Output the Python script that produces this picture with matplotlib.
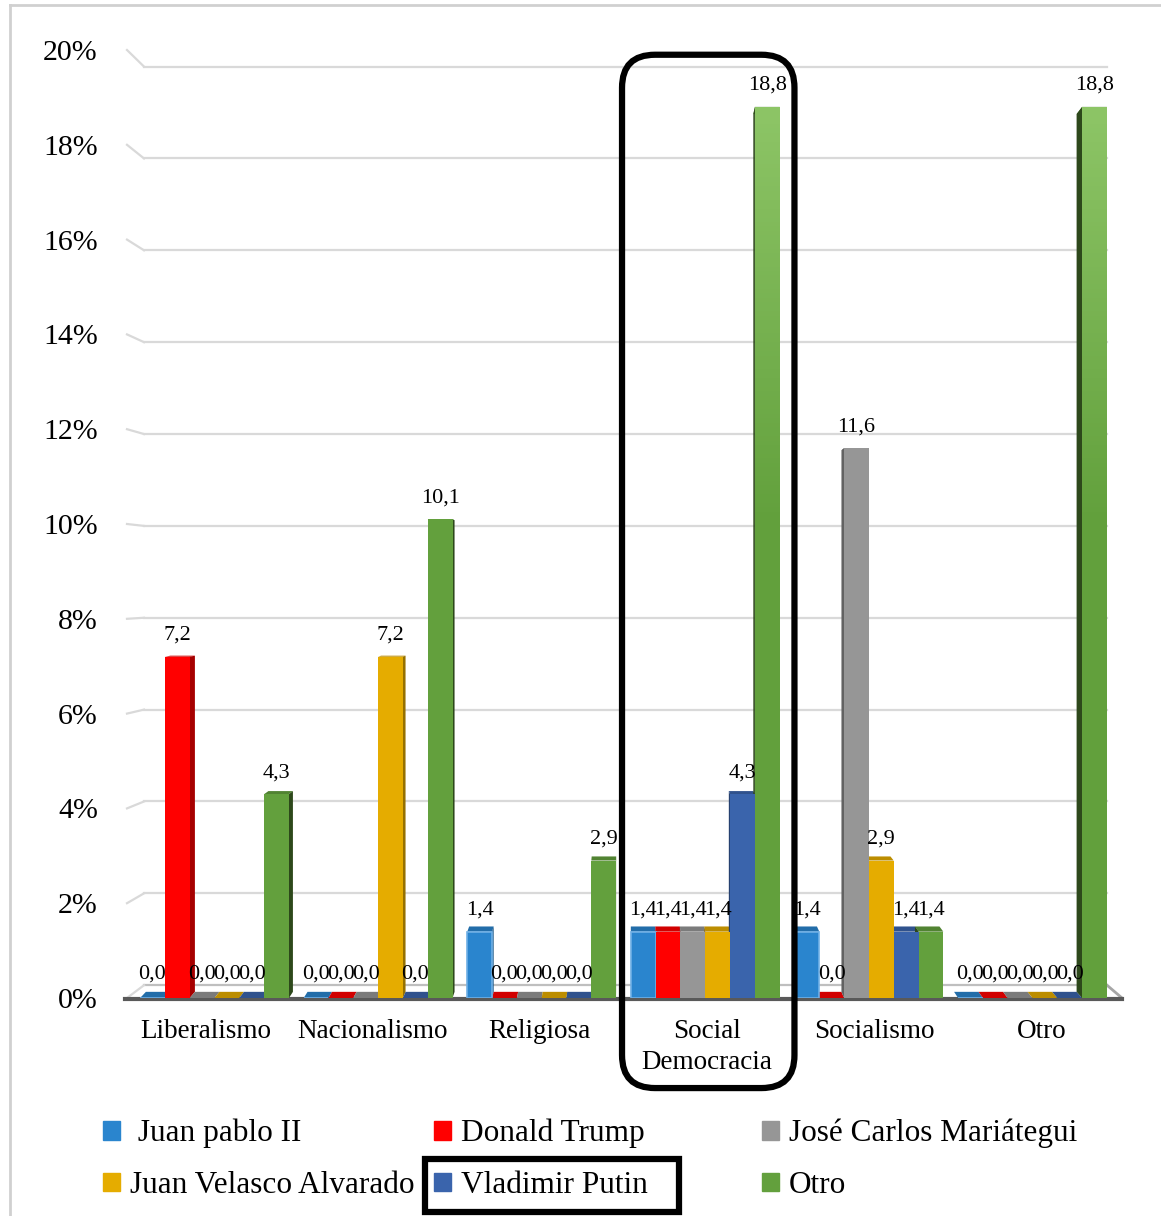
import numpy as np
import matplotlib.pyplot as plt
import matplotlib
from matplotlib.patches import Rectangle, Polygon, FancyBboxPatch
from matplotlib.colors import to_rgb, LinearSegmentedColormap

matplotlib.rcParams['font.family'] = 'Liberation Serif'

categorias = ['Liberalismo', 'Nacionalismo', 'Religiosa', 'Social\nDemocracia', 'Socialismo', 'Otro']
series = ['Juan pablo II', 'Donald Trump', 'José Carlos Mariátegui',
          'Juan Velasco Alvarado', 'Vladimir Putin', 'Otro']
juan_pablo   = [0.0, 0.0, 1.4, 1.4, 1.4, 0.0]
trump        = [7.2, 0.0, 0.0, 1.4, 0.0, 0.0]
mariategui   = [0.0, 0.0, 0.0, 1.4, 11.6, 0.0]
velasco      = [0.0, 7.2, 0.0, 1.4, 2.9, 0.0]
putin        = [0.0, 0.0, 0.0, 4.3, 1.4, 0.0]
otro         = [4.3, 10.1, 2.9, 18.8, 1.4, 18.8]
valores = [juan_pablo, trump, mariategui, velasco, putin, otro]
colores = ['#2A85CE', '#FF0000', '#969696', '#E5AC00', '#3A64AC', '#63A03D']
yticks = list(range(0, 21, 2))

W, H = 1161, 1216
fig = plt.figure(figsize=(W / 100, H / 100), dpi=100)
fig.patch.set_facecolor('white')

# axes placed in pixel terms: x 127..1122, y 0%->998 px, 20%->50 px
ax = fig.add_axes([127 / W, (H - 998) / H, (1122 - 127) / W, (998 - 50) / H])
ux, uy = 163.6, 47.4                     # px per data unit
xl0, xl1 = (127 - 214.5) / ux, (1122 - 214.5) / ux
ax.set_xlim(xl0, xl1)
ax.set_ylim(0, 20)
for s in ax.spines.values():
    s.set_visible(False)

bw = 0.1516
xc = 2.5          # vanishing centre


def back(x, y):
    return (x + (xc - x) * 0.012, y * 0.985 + 0.13)


# back wall gridlines with perspective stubs on the left
wall_dx = 17 / ux
for v in yticks:
    yb = 0.969 * v + 0.27
    gc = '#D9D9D9' if v > 0 else '#BFBFBF'
    ax.plot([wall_dx + xl0, xl1 - 15 / ux], [yb, yb], color=gc, lw=1.6, zorder=0)
    ax.plot([xl0, xl0 + wall_dx], [v, yb], color='#D9D9D9', lw=1.6, zorder=0, clip_on=False)
# floor
ax.plot([xl1 - 15 / ux, xl1], [0.27, 0.0], color='#A6A6A6', lw=2, zorder=0, clip_on=False)
ax.plot([xl0 - 0.01, xl1], [-0.03, -0.03], color='#595959', lw=3, zorder=1, clip_on=False)

green_cmap = LinearSegmentedColormap.from_list('g', ['#62A03C', '#62A03C', '#93CA6C'])


def dark(c, f):
    r, g, b = to_rgb(c)
    return (r * f, g * f, b * f)


x = np.arange(len(categorias))
for k, (vals, col) in enumerate(zip(valores, colores)):
    xs = x + (k - 2.5) * bw
    side_f = 0.45 if k == 5 else 0.65
    for xi, v in zip(xs, vals):
        x0, x1 = xi - bw / 2, xi + bw / 2
        b00, b10 = back(x0, 0), back(x1, 0)
        b01, b11 = back(x0, v), back(x1, v)
        # top face
        ax.add_patch(Polygon([(x0, v), (x1, v), b11, b01], closed=True,
                             facecolor=dark(col, 0.82), edgecolor='none', zorder=2))
        # side face
        if b00[0] > x0:
            side = [(x1, 0), (x1, v), b11, b10]
        else:
            side = [(x0, 0), (x0, v), b01, b00]
        if v > 0:
            ax.add_patch(Polygon(side, closed=True, facecolor=dark(col, side_f),
                                 edgecolor='none', zorder=2))
    bars = ax.bar(xs, vals, width=bw, color=col, zorder=3,
                  edgecolor='#6FB0E6' if k == 0 else 'none', linewidth=1.2)
    if k == 5:
        for rect, v in zip(bars, vals):
            if v > 12:
                grad = np.linspace(0, v / 20, 200).reshape(-1, 1)
                im = ax.imshow(grad, cmap=green_cmap, vmin=0, vmax=1, origin='lower',
                               extent=[rect.get_x(), rect.get_x() + bw, 0, v],
                               aspect='auto', zorder=3.5)
                im.set_clip_path(rect)
    for xi, v in zip(xs, vals):
        ax.text(xi, v + (0.36 if v > 0 else 0.42), f'{v:.1f}'.replace('.', ','),
                ha='center', va='baseline', fontsize=16, zorder=6)

ax.set_yticks(yticks)
ax.set_yticklabels([f'{v}%' for v in yticks], fontsize=21.5)
ax.tick_params(axis='y', length=0, pad=21)
# category labels sit on the front floor edge, spread slightly by perspective
ax.set_xticks(x + (x - xc) * 0.022)
ax.set_xticklabels(categorias, fontsize=19.5, linespacing=1.3)
ax.tick_params(axis='x', length=0, pad=15)
ax.grid(False)

# highlight box around Social Democracia
p0 = ax.transData.transform((3 - 0.509, 19.9)) / fig.dpi
p1 = ax.transData.transform((3 + 0.545, -1.90)) / fig.dpi
r = 0.33
box = FancyBboxPatch((p0[0] + r, p1[1] + r), p1[0] - p0[0] - 2 * r, p0[1] - p1[1] - 2 * r,
                     boxstyle=f'round,pad={r},rounding_size={r}',
                     transform=fig.dpi_scale_trans, facecolor='none',
                     edgecolor='black', lw=4.5, zorder=10, clip_on=False)
fig.add_artist(box)

# legend in three columns
handles = [Rectangle((0, 0), 1, 1, color=c) for c in colores]
labels = [' ' + series[0]] + series[1:]
col_x = [103 / W, 434 / W, 762 / W]
legends = []
for j in range(3):
    idx = [j, j + 3]
    leg = fig.legend([handles[i] for i in idx], [labels[i] for i in idx],
                     loc='upper left', bbox_to_anchor=(col_x[j], (H - 1119) / H),
                     frameon=False, fontsize=22.5, handlelength=0.55, handleheight=0.55,
                     handletextpad=0.3, labelspacing=0.72, borderpad=0, borderaxespad=0)
    legends.append(leg)

# box around Vladimir Putin legend entry
fig.canvas.draw()
rend = fig.canvas.get_renderer()
leg = legends[1]
tb = leg.get_texts()[1].get_window_extent(rend)
hb = leg.legend_handles[1].get_window_extent(rend)
cy = (tb.y0 + tb.y1) / 2
fig.add_artist(Rectangle(((hb.x0 - 9) / fig.dpi, (cy - 26) / fig.dpi),
                         (tb.x1 + 32 - hb.x0 + 9) / fig.dpi, 53 / fig.dpi,
                         transform=fig.dpi_scale_trans, facecolor='none',
                         edgecolor='black', lw=4.5, zorder=10))

# outer light frame
fig.add_artist(plt.Line2D([10 / W, 10 / W], [0, (H - 5) / H], color='#D0D0D0', lw=2,
                          transform=fig.transFigure))
fig.add_artist(plt.Line2D([10 / W, 1], [(H - 5) / H, (H - 5) / H], color='#D0D0D0', lw=2,
                          transform=fig.transFigure))

fig.savefig('out.png', dpi=100)
